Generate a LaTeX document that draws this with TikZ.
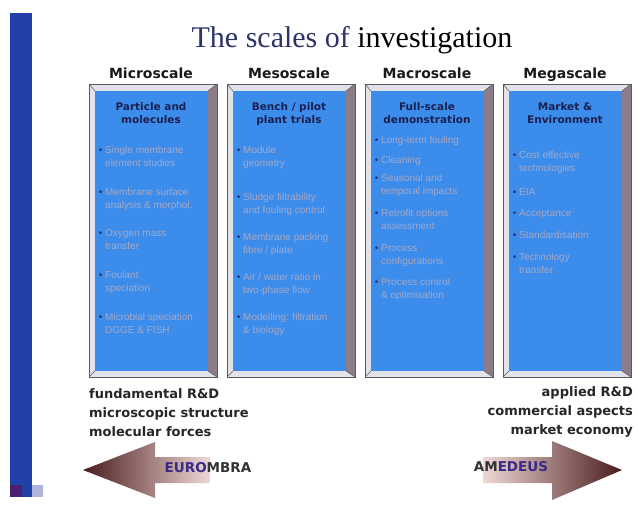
\documentclass[tikz,border=0pt]{standalone}
\usepackage{fontspec}
\setmainfont{Liberation Serif}
\newfontfamily\headfont{DejaVu Sans}
\newfontfamily\itemfont{Liberation Sans}

\definecolor{scaleblue}{HTML}{3C8CEC}
\definecolor{bevellight}{HTML}{E2E2EA}
\definecolor{beveldark}{HTML}{8C7C88}
\definecolor{bevelline}{HTML}{5A5A62}
\definecolor{titlenavy}{HTML}{2A3468}
\definecolor{boxnavy}{HTML}{1B2050}
\definecolor{itemgrey}{HTML}{A2A8C6}
\definecolor{dotnavy}{HTML}{2A3470}
\definecolor{barblue}{HTML}{2140A8}
\definecolor{barpurple}{HTML}{4A2070}
\definecolor{barlilac}{HTML}{B0B4D8}
\definecolor{arrowdark}{HTML}{4A1C1C}
\definecolor{arrowlight}{HTML}{EED8D6}
\definecolor{bannerblue}{HTML}{3A2A86}

\tikzset{
  header/.style={font=\headfont\bfseries\fontsize{14}{16}\selectfont, anchor=base, text=black!90},
  boxtitle/.style={font=\headfont\bfseries\fontsize{10.5}{13}\selectfont, anchor=north, align=center, inner sep=0pt, text=boxnavy},
  item/.style={font=\itemfont\fontsize{10}{13}\selectfont, anchor=north west, align=left, inner sep=0pt, text=itemgrey},
  sidetext/.style={font=\headfont\bfseries\fontsize{13}{19}\selectfont, inner sep=0pt, text=black!85},
  banner/.style={font=\headfont\bfseries\fontsize{13.5}{16}\selectfont, text=black!80},
}
\newcommand{\dotmark}{\llap{\textcolor{dotnavy}{\textbullet}\ }}

% bevelled blue panel, 128 x 293
\newcommand{\bevelframe}{%
  \fill[bevellight] (0,84) rectangle (128,377);
  \fill[beveldark] (128,84) -- (119,91) -- (119,371) -- (128,377) -- cycle;
  \fill[scaleblue] (6,91) rectangle (119,371);
  \draw[bevelline, line width=0.5pt] (0,84) -- (6,91) (128,84) -- (119,91)
    (0,377) -- (6,371) (128,377) -- (119,371);
  \draw[bevelline, line width=0.8pt] (0,84) rectangle (128,377);
}

\begin{document}
\begin{tikzpicture}[x=1pt, y=-1pt]
  \useasboundingbox (0,0) rectangle (638,505);

  % side bar
  \fill[barblue] (10,13) rectangle (32,497);
  \fill[barpurple] (10,485) rectangle (22,497);
  \fill[barlilac] (32,485) rectangle (43,497);

  \node[font=\fontsize{30}{34}\selectfont, anchor=base, inner sep=0pt] (title) at (352,48)
    {\textcolor{titlenavy}{The scales of} investigation};

  % Microscale
  \begin{scope}[xshift=89pt]
    \bevelframe
    \node[header] (micro-h) at (62,79) {Microscale};
    \node[boxtitle] (micro-t) at (62,102) {Particle and\\molecules};
    \foreach \y/\t [count=\k] in {146/{Single membrane\\element studies},
        188/{Membrane surface\\analysis \& morphol.}, 229/{Oxygen mass\\transfer},
        271/{Foulant\\speciation}, 313/{Microbial speciation\\DGGE \& FISH}}
      \node[item] (micro-\k) at (16,\y) {\dotmark\t};
  \end{scope}

  % Mesoscale
  \begin{scope}[xshift=227pt]
    \bevelframe
    \node[header] (meso-h) at (62,79) {Mesoscale};
    \node[boxtitle] (meso-t) at (62,102) {Bench / pilot\\plant trials};
    \foreach \y/\t [count=\k] in {146/{Module\\geometry},
        193/{Sludge filtrability\\and fouling control}, 233/{Membrane packing\\fibre / plate},
        273/{Air / water ratio in\\two-phase flow}, 313/{Modelling: filtration\\\& biology}}
      \node[item] (meso-\k) at (16,\y) {\dotmark\t};
  \end{scope}

  % Macroscale
  \begin{scope}[xshift=365pt]
    \bevelframe
    \node[header] (macro-h) at (62,79) {Macroscale};
    \node[boxtitle] (macro-t) at (62,102) {Full-scale\\demonstration};
    \foreach \y/\t [count=\k] in {136/{Long-term fouling}, 156/{Cleaning},
        174/{Seasonal and\\temporal impacts}, 209/{Retrofit options\\assessment},
        244/{Process\\configurations}, 278/{Process control\\\& optimisation}}
      \node[item] (macro-\k) at (16,\y) {\dotmark\t};
  \end{scope}

  % Megascale
  \begin{scope}[xshift=503pt]
    \bevelframe
    \node[header] (mega-h) at (62,79) {Megascale};
    \node[boxtitle] (mega-t) at (62,102) {Market \&\\Environment};
    \foreach \y/\t [count=\k] in {151/{Cost effective\\technologies}, 188/{EIA},
        209/{Acceptance}, 231/{Standardisation}, 253/{Technology\\transfer}}
      \node[item] (mega-\k) at (16,\y) {\dotmark\t};
  \end{scope}

  % bottom captions
  \node[sidetext, anchor=north west, align=left] (fundamental) at (89,388)
    {fundamental R\&D\\microscopic structure\\molecular forces};
  \node[sidetext, anchor=north east, align=right] (applied) at (633,386)
    {applied R\&D\\commercial aspects\\market economy};

  % arrows
  \shade[left color=arrowdark, middle color=arrowdark, right color=arrowlight]
    (210,457) -- (155,457) -- (155,442) -- (83,470) -- (155,498) -- (155,483)
    -- (210,483) -- cycle;
  \shade[left color=arrowlight, middle color=arrowdark, right color=arrowdark]
    (483,457) -- (552,457) -- (552,441) -- (622,470) -- (552,500) -- (552,483)
    -- (483,483) -- cycle;
  \node[banner] (eurombra) at (208,468) {\textcolor{bannerblue}{EURO}MBRA};
  \node[banner] (amedeus) at (511,467) {AM\textcolor{bannerblue}{EDEUS}};
\end{tikzpicture}
\end{document}
